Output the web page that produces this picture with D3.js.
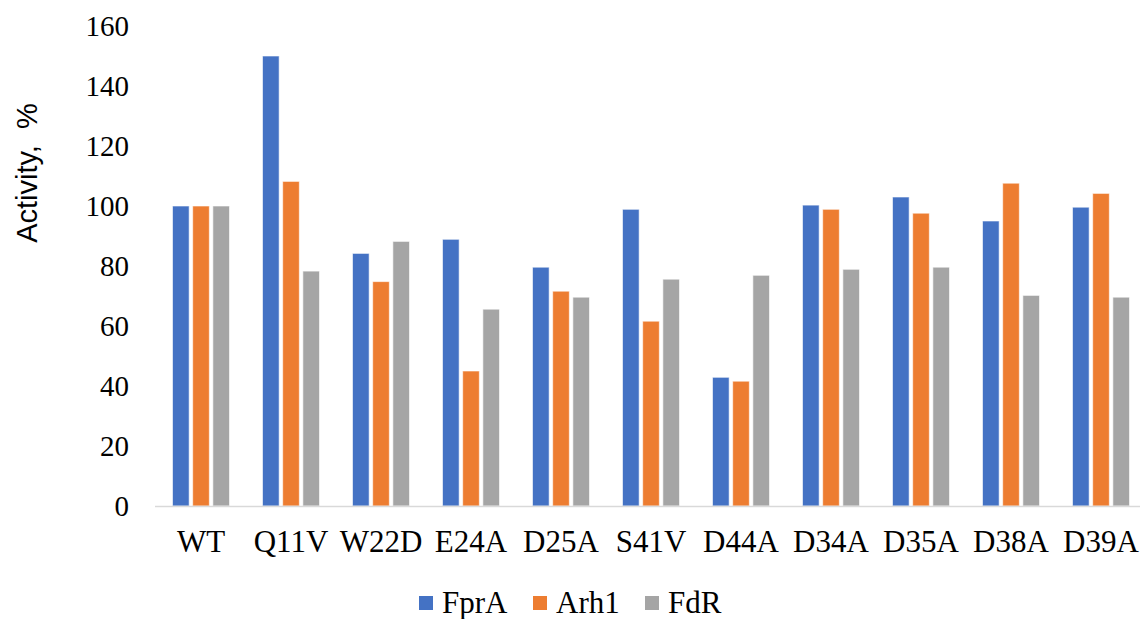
<!DOCTYPE html>
<html>
<head>
<meta charset="utf-8">
<script src="https://cdn.jsdelivr.net/npm/d3@7"></script>
<style>
  html, body { margin: 0; padding: 0; background: #ffffff; }
  svg { display: block; }
</style>
</head>
<body>
<svg id="chart" width="1140" height="619"></svg>
<script>
const categories = ["WT", "Q11V", "W22D", "E24A", "D25A", "S41V", "D44A", "D34A", "D35A", "D38A", "D39A"];
const seriesNames = ["FprA", "Arh1", "FdR"];
const fprA = [100, 150, 84.2, 88.9, 79.6, 98.9, 42.9, 100.3, 103, 95, 99.6];
const arh1 = [100, 108.2, 74.8, 45, 71.6, 61.6, 41.6, 98.9, 97.6, 107.6, 104.2];
const fdR  = [100, 78.3, 88.2, 65.6, 69.6, 75.6, 76.9, 78.9, 79.6, 70.2, 69.6];
const yTicks = [0, 20, 40, 60, 80, 100, 120, 140, 160];
const colors = ["#4472C4", "#ED7D31", "#A5A5A5"];

const seriesValues = [fprA, arh1, fdR];
const svg = d3.select("#chart");
const serif = "'Liberation Serif', 'Times New Roman', serif";
const sans = "'Liberation Sans', Arial, sans-serif";

const x = d3.scaleBand().domain(categories).range([156, 1146]).paddingInner(0).paddingOuter(0);
const y = d3.scaleLinear().domain([0, 160]).range([506, 26]);
const xs = d3.scaleBand().domain(seriesNames).range([16.5, 73.5]).paddingInner(0.175).paddingOuter(0);

// Y axis labels (no axis line)
const yAxis = d3.axisLeft(y).tickValues(yTicks).tickSize(0).tickPadding(0);
const yg = svg.append("g").attr("transform", "translate(129,0)").call(yAxis);
yg.select(".domain").remove();
yg.selectAll("text").style("font-family", serif).style("font-size", "29px").attr("fill", "#000");

// Bars
const data = [];
categories.forEach((c, i) => {
  seriesNames.forEach((s, j) => data.push({ c, s, j, v: seriesValues[j][i] }));
});
svg.append("g").selectAll("rect").data(data).enter().append("rect")
  .attr("x", d => x(d.c) + xs(d.s))
  .attr("y", d => y(d.v))
  .attr("width", xs.bandwidth())
  .attr("height", d => y(0) - y(d.v))
  .attr("fill", d => colors[d.j])
  .attr("stroke", "#ffffff")
  .attr("stroke-opacity", 0.6)
  .attr("stroke-width", 1);

// X axis
const xAxis = d3.axisBottom(x).tickSize(0).tickPadding(24);
const xg = svg.append("g").attr("transform", `translate(0,${y(0)})`).call(xAxis);
xg.select(".domain").attr("stroke", "#d9d9d9").attr("stroke-width", 1.3).attr("d", "M155,0.5H1146");
xg.selectAll("text").style("font-family", serif).style("font-size", "31px").attr("fill", "#000");

// Y axis title
svg.append("text")
  .attr("transform", "translate(37,173) rotate(-90)")
  .attr("text-anchor", "middle")
  .style("font-family", sans)
  .style("font-size", "29px")
  .style("white-space", "pre")
  .attr("fill", "#000")
  .text("Activity,  %");

// Legend
const legendX = [419, 533, 645];
const lg = svg.append("g");
seriesNames.forEach((s, j) => {
  lg.append("rect").attr("x", legendX[j]).attr("y", 596).attr("width", 14).attr("height", 14).attr("fill", colors[j]);
  lg.append("text").attr("x", legendX[j] + 23).attr("y", 613)
    .style("font-family", serif).style("font-size", "31px").attr("fill", "#000").text(s);
});
</script>
</body>
</html>
